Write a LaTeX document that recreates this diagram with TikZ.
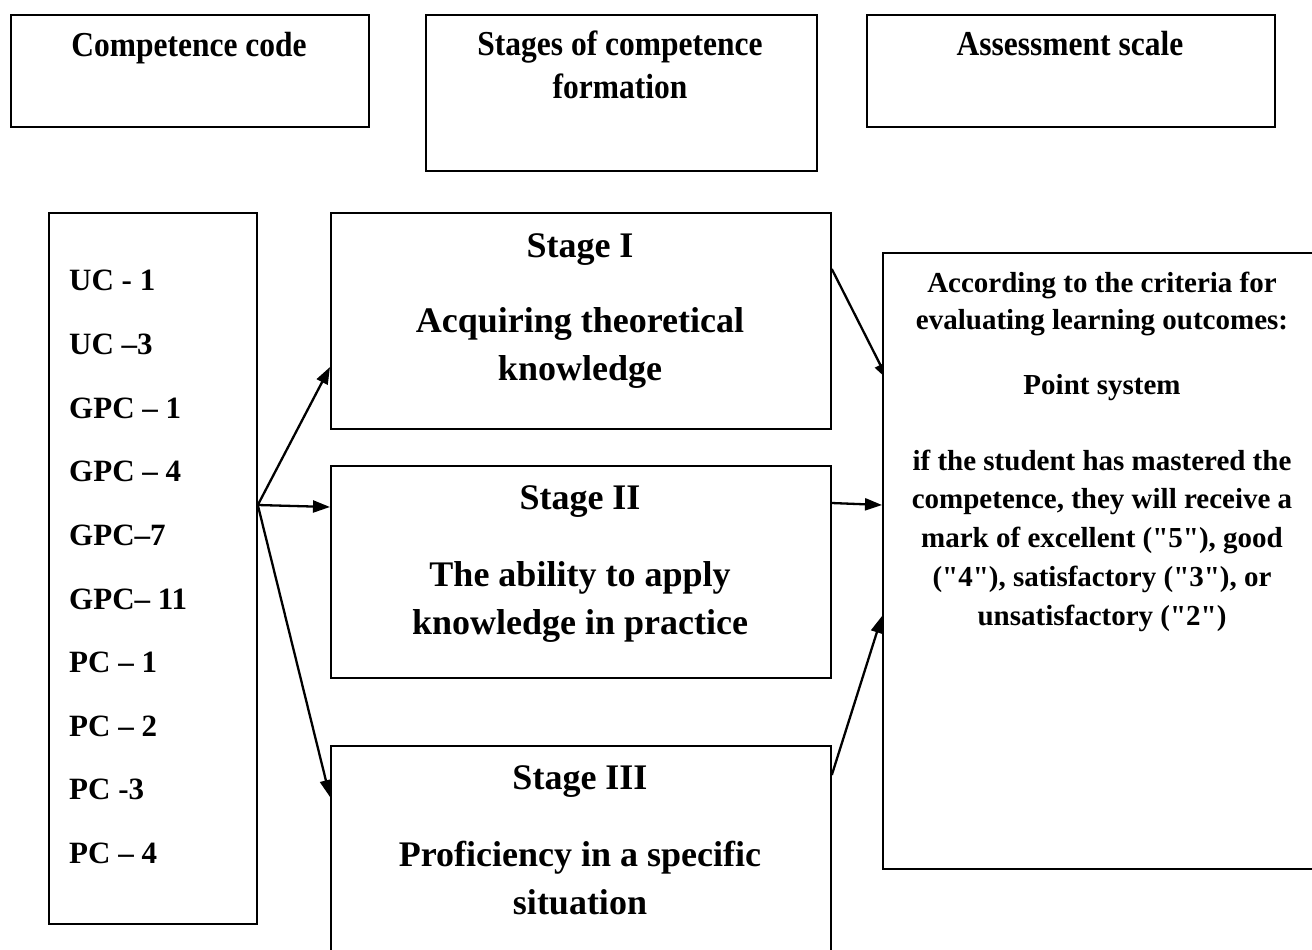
\documentclass[tikz,border=0pt]{standalone}
\usepackage{fontspec}
\setmainfont{Liberation Serif}[Ligatures=TeXOff]
\newfontfamily\hdfont{Liberation Serif}[FakeStretch=0.9]
\usetikzlibrary{arrows.meta,backgrounds}
\tikzset{
  box/.style={draw, line width=1.8pt, fill=white, inner sep=0pt, anchor=north west},
  txt/.style={anchor=base, inner sep=0pt},
  hd/.style={txt, font=\hdfont\bfseries\fontsize{35}{42}\selectfont},
  code/.style={anchor=base west, inner sep=0pt, font=\bfseries\fontsize{31}{36}\selectfont},
  stg/.style={txt, font=\bfseries\fontsize{36}{44}\selectfont},
  crit/.style={txt, font=\bfseries\fontsize{29}{36}\selectfont},
  arr/.style={line width=2.3pt, -{Triangle[length=17pt,width=12pt]}}
}
\begin{document}
\begin{tikzpicture}[x=1pt,y=-1pt]
\useasboundingbox (0,0) rectangle (1312,950);

% column headers
\node[box, minimum width=358pt, minimum height=112pt] (hcode) at (10,14) {};
\node[box, minimum width=391pt, minimum height=156pt] (hstage) at (425,14) {};
\node[box, minimum width=408pt, minimum height=112pt] (hscale) at (866,14) {};
\node[hd] (hcodeT) at (189,57) {Competence code};
\node[hd] (hstageT1) at (620,56) {Stages of competence};
\node[hd] (hstageT2) at (620,98) {formation};
\node[hd] (hscaleT) at (1070,56) {Assessment scale};

% competence list
\node[box, minimum width=208pt, minimum height=711pt] (list) at (48,212) {};
\node[code] (c1)  at (69,290) {UC - 1};
\node[code] (c2)  at (69,354) {UC –3};
\node[code] (c3)  at (69,418) {GPC – 1};
\node[code] (c4)  at (69,481) {GPC – 4};
\node[code] (c5)  at (69,545) {GPC–7};
\node[code] (c6)  at (69,609) {GPC– 11};
\node[code] (c7)  at (69,672) {PC – 1};
\node[code] (c8)  at (69,736) {PC – 2};
\node[code] (c9)  at (69,799) {PC -3};
\node[code] (c10) at (69,863) {PC – 4};

% stages
\node[box, minimum width=500pt, minimum height=216pt] (s1) at (330,212) {};
\node[stg] (s1a) at (580,257) {Stage I};
\node[stg] (s1b) at (580,332) {Acquiring theoretical};
\node[stg] (s1c) at (580,380) {knowledge};

\node[box, minimum width=500pt, minimum height=212pt] (s2) at (330,465) {};
\node[stg] (s2a) at (580,509) {Stage II};
\node[stg] (s2b) at (580,586) {The ability to apply};
\node[stg] (s2c) at (580,634) {knowledge in practice};

\node[box, minimum width=500pt, minimum height=215pt] (s3) at (330,745) {};
\node[stg] (s3a) at (580,789) {Stage III};
\node[stg] (s3b) at (580,866) {Proficiency in a specific};
\node[stg] (s3c) at (580,914) {situation};

% assessment criteria
\node[box, minimum width=440pt, minimum height=616pt] (res) at (882,252) {};
\node[crit] (r1) at (1102,292) {According to the criteria for};
\node[crit] (r2) at (1102,329) {evaluating learning outcomes:};
\node[crit] (r3) at (1102,394) {Point system};
\node[crit] (r4) at (1102,470) {if the student has mastered the};
\node[crit] (r5) at (1102,508) {competence, they will receive a};
\node[crit] (r6) at (1102,547) {mark of excellent ("5"), good};
\node[crit] (r7) at (1102,586) {("4"), satisfactory ("3"), or};
\node[crit] (r8) at (1102,625) {unsatisfactory ("2")};

% connectors
\coordinate (src) at ([yshift=-293pt]list.north east);
\begin{pgfonlayer}{background}
\draw[arr] (src) -- ([yshift=-155pt]s1.north west);
\draw[arr] (src) -- ([yshift=-42pt]s2.north west);
\draw[arr] (src) -- ([yshift=-52pt]s3.north west);
\draw[arr] ([yshift=-57pt]s1.north east) -- ([xshift=6pt,yshift=-128pt]res.north west);
\draw[arr] ([yshift=-38pt]s2.north east) -- ([yshift=-253pt]res.north west);
\draw[arr] ([yshift=-30pt]s3.north east) -- ([yshift=-364pt]res.north west);
\end{pgfonlayer}
\end{tikzpicture}
\end{document}
